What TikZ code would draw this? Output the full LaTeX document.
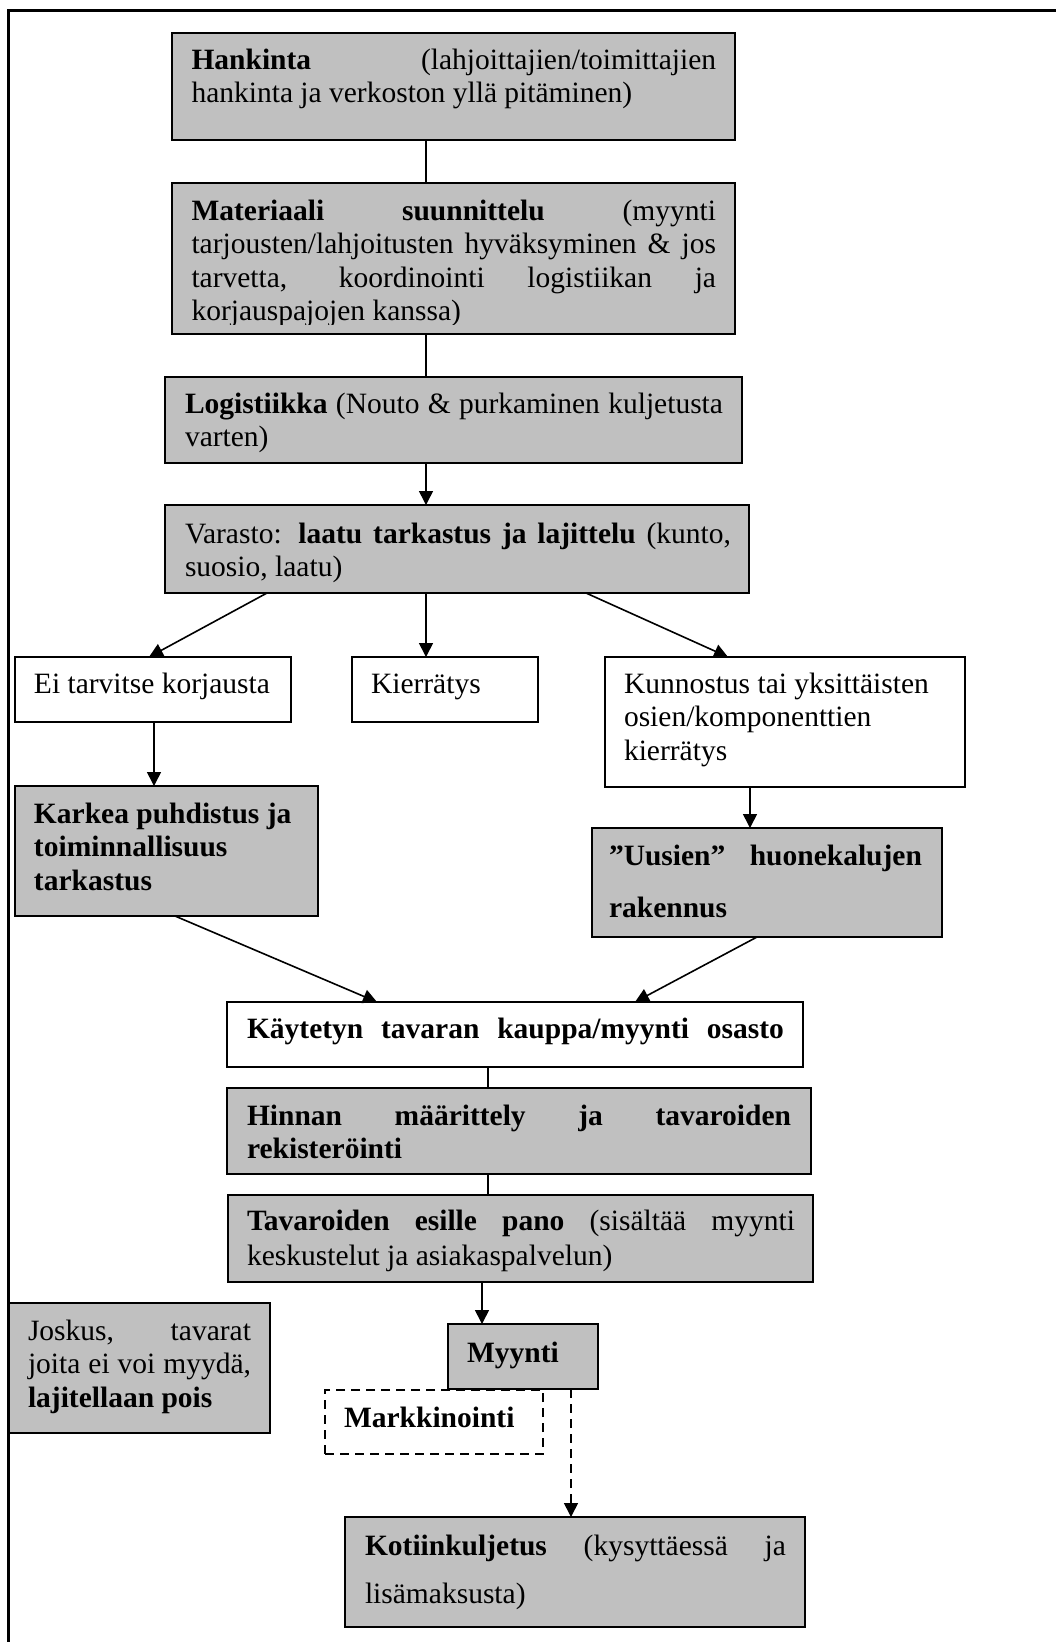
\documentclass[tikz,border=0pt]{standalone}
\usepackage{fontspec}
\setmainfont{Liberation Serif}
\usetikzlibrary{arrows.meta}

\definecolor{boxgray}{RGB}{192,192,192}

\begin{document}
\begin{tikzpicture}[x=1pt,y=-1pt,
  box/.style={draw=black, line width=2.4pt, inner sep=0pt, outer sep=0pt, anchor=north west},
  graybox/.style={box, fill=boxgray},
  whitebox/.style={box, fill=white},
  dashbox/.style={box, line width=1.8pt, dash pattern=on 9pt off 6pt},
  txt/.style={inner sep=0pt, outer sep=0pt, anchor=base west, align=left,
    font={\fontsize{29.5}{33.5}\selectfont}},
  link/.style={draw=black, line width=1.6pt},
  arr/.style={link, -{Triangle[length=14pt,width=14pt]}},
  dasharr/.style={arr, dash pattern=on 9pt off 6pt},
  frameline/.style={draw=black, line width=3pt}
]
% page area
\fill[white] (0,0) rectangle (1056,1642);
\useasboundingbox (0,0) rectangle (1056,1642);

% outer frame (top and left edges only)
\draw[frameline] (8,1642) -- (8,10) -- (1056,10);

% ---- boxes ----
\node[graybox, minimum width=563pt, minimum height=107pt] (hank) at (172,33) {};
\node[graybox, minimum width=563pt, minimum height=151pt] (mat) at (172,183) {};
\node[graybox, minimum width=577pt, minimum height=86pt] (log) at (165,377) {};
\node[graybox, minimum width=584pt, minimum height=88pt] (var) at (165,505) {};
\node[whitebox, minimum width=276pt, minimum height=65pt] (ei) at (15,657) {};
\node[whitebox, minimum width=186pt, minimum height=65pt] (kier) at (352,657) {};
\node[whitebox, minimum width=360pt, minimum height=130pt] (kun) at (605,657) {};
\node[graybox, minimum width=303pt, minimum height=130pt] (karkea) at (15,786) {};
\node[graybox, minimum width=350pt, minimum height=109pt] (uus) at (592,828) {};
\node[whitebox, minimum width=576pt, minimum height=65pt] (kayt) at (227,1002) {};
\node[graybox, minimum width=584pt, minimum height=86pt] (hinn) at (227,1088) {};
\node[graybox, minimum width=585pt, minimum height=87pt] (tav) at (228,1195) {};
\node[graybox, minimum width=261pt, minimum height=130pt] (jos) at (9,1303) {};
\node[dashbox, fill=white, minimum width=218pt, minimum height=64pt] (markk) at (325,1390) {};
\node[graybox, minimum width=150pt, minimum height=65pt] (myy) at (448,1324) {};
\node[graybox, minimum width=460pt, minimum height=110pt] (kot) at (345,1517) {};

% ---- texts ----
\node[txt] (hank-t) at (191.5,69) {\parbox[t]{524.5pt}{%
  \makebox[\linewidth][s]{\textbf{Hankinta} (lahjoittajien/toimittajien}\\
  hankinta ja verkoston yllä pitäminen)}};

\begin{scope}
  \clip (172,183) rectangle (735,324);
  \node[txt] (mat-t) at (191.5,220) {\parbox[t]{524.5pt}{%
    \makebox[\linewidth][s]{\textbf{Materiaali suunnittelu} (myynti}\\
    \makebox[\linewidth][s]{tarjousten/lahjoitusten hyväksyminen \& jos}\\
    \makebox[\linewidth][s]{tarvetta, koordinointi logistiikan ja}\\
    korjauspajojen kanssa)}};
\end{scope}

\node[txt] (log-t) at (185,413) {\parbox[t]{538pt}{%
  \makebox[\linewidth][s]{\textbf{Logistiikka} (Nouto \& purkaminen kuljetusta}\\
  varten)}};

\node[txt] (var-t) at (185,543) {\parbox[t]{546pt}{%
  \makebox[\linewidth][s]{Varasto: \textbf{laatu tarkastus ja lajittelu} (kunto,}\\
  suosio, laatu)}};

\node[txt] (ei-t) at (34,693) {Ei tarvitse korjausta};
\node[txt] (kier-t) at (371,693) {Kierrätys};
\node[txt] (kun-t) at (624,693) {\parbox[t]{330pt}{%
  Kunnostus tai yksittäisten\\
  osien/komponenttien\\
  kierrätys}};

\node[txt, font={\fontsize{29.5}{33.5}\selectfont\bfseries}] (karkea-t) at (34,823) {\parbox[t]{280pt}{%
  Karkea puhdistus ja\\
  toiminnallisuus\\
  tarkastus}};

\node[txt, font={\fontsize{29.5}{52}\selectfont\bfseries}] (uus-t) at (609,865) {\parbox[t]{313pt}{%
  \makebox[\linewidth][s]{”Uusien” huonekalujen}\\
  rakennus}};

\node[txt] (kayt-t) at (247,1038) {\parbox[t]{537pt}{%
  \makebox[\linewidth][s]{\textbf{Käytetyn tavaran kauppa/myynti osasto}}}};

\node[txt, font={\fontsize{29.5}{33.5}\selectfont\bfseries}] (hinn-t) at (247,1125) {\parbox[t]{544pt}{%
  \makebox[\linewidth][s]{Hinnan määrittely ja tavaroiden}\\
  rekisteröinti}};

\node[txt, font={\fontsize{29.5}{35}\selectfont}] (tav-t) at (247,1230) {\parbox[t]{548pt}{%
  \makebox[\linewidth][s]{\textbf{Tavaroiden esille pano} (sisältää myynti}\\
  keskustelut ja asiakaspalvelun)}};

\node[txt] (jos-t) at (28,1340) {\parbox[t]{223pt}{%
  \makebox[\linewidth][s]{Joskus, tavarat}\\
  \makebox[\linewidth][s]{joita ei voi myydä,}\\
  \textbf{lajitellaan pois}}};

\node[txt] (markk-t) at (344,1427) {\textbf{Markkinointi}};
\node[txt] (myy-t) at (467,1362) {\textbf{Myynti}};

\node[txt, font={\fontsize{29.5}{48}\selectfont}] (kot-t) at (365,1555) {\parbox[t]{421pt}{%
  \makebox[\linewidth][s]{\textbf{Kotiinkuljetus} (kysyttäessä ja}\\
  lisämaksusta)}};

% ---- connectors ----
\coordinate (upper spine) at (426,0);
\coordinate (shop spine) at (488,0);
\coordinate (sale spine) at (482,0);
\coordinate (delivery spine) at (571,0);

\draw[link] (hank.south -| upper spine) -- (mat.north -| upper spine);
\draw[link] (mat.south -| upper spine) -- (log.north -| upper spine);
\draw[arr] (log.south -| upper spine) -- (var.north -| upper spine);

\draw[arr] ([xshift=102pt]var.south west) -- ([xshift=134pt]ei.north west);
\draw[arr] (var.south -| upper spine) -- (kier.north -| upper spine);
\draw[arr] ([xshift=421pt]var.south west) -- ([xshift=123pt]kun.north west);

\draw[arr] ([xshift=139pt]ei.south west) -- ([xshift=139pt]karkea.north west);
\draw[arr] ([xshift=145pt]kun.south west) -- ([xshift=158pt]uus.north west);

\draw[arr] ([xshift=160pt]karkea.south west) -- ([xshift=150pt]kayt.north west);
\draw[arr] ([xshift=165pt]uus.south west) -- ([xshift=408pt]kayt.north west);

\draw[link] (kayt.south -| shop spine) -- (hinn.north -| shop spine);
\draw[link] (hinn.south -| shop spine) -- (tav.north -| shop spine);
\draw[arr] (tav.south -| sale spine) -- (myy.north -| sale spine);
\draw[dasharr] (myy.south -| delivery spine) -- (kot.north -| delivery spine);
\end{tikzpicture}
\end{document}
